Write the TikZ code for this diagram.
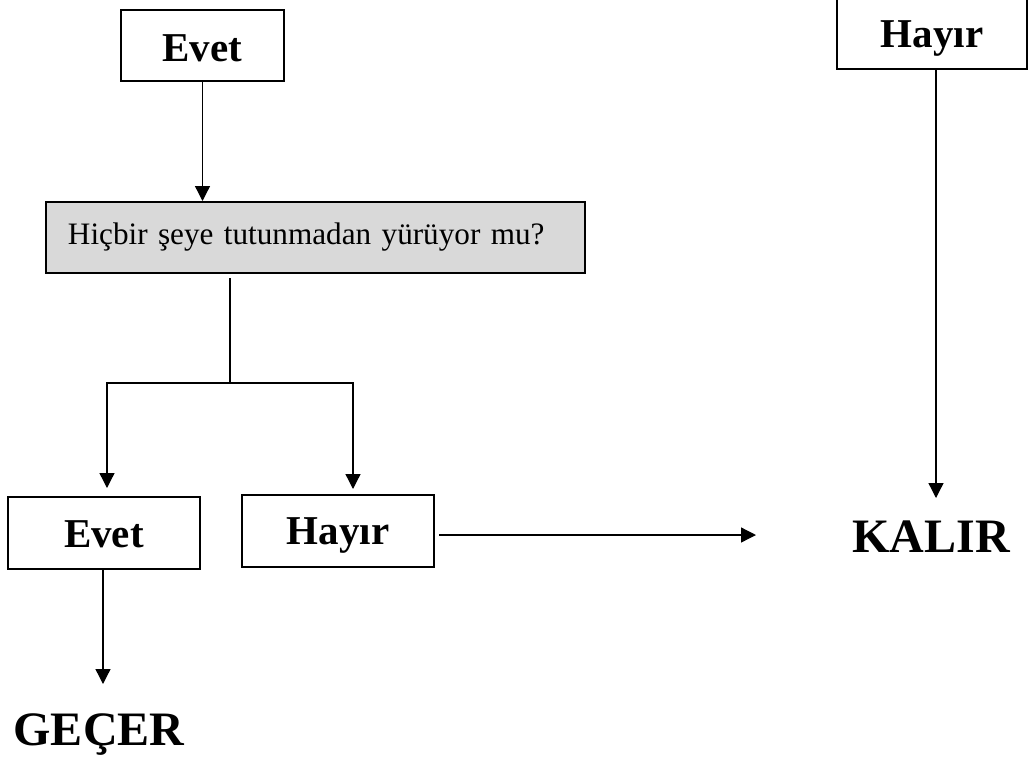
\documentclass[tikz,border=0pt]{standalone}
\usepackage{fontspec}
\setmainfont{Liberation Serif}
\usetikzlibrary{arrows.meta,positioning}
\definecolor{boxgrey}{RGB}{217,217,217}
\tikzset{
answer/.style={draw,line width=1pt,minimum width=96pt,minimum height=36pt,inner sep=0pt,text height=14pt,text depth=0pt,font=\fontsize{20.5}{24}\selectfont\bfseries},
question/.style={draw,line width=1pt,fill=boxgrey,text width=247.5pt,inner xsep=11pt,inner ysep=0pt,minimum height=35.5pt,font=\fontsize{15.6}{19}\selectfont},
result/.style={anchor=base,font=\fontsize{24}{28}\selectfont\bfseries},
link/.style={line width=0.65pt,-{Triangle[length=7.5pt,width=7.5pt]}},
wire/.style={line width=0.65pt}
}

\begin{document}
\begin{tikzpicture}[x=0.5pt,y=-0.5pt]
      \useasboundingbox (0,0) rectangle (1029,761);

      \node[answer,minimum width=81.5pt,minimum height=35.5pt,text height=15.5pt] (evet1) at (202.5,45.5) {Evet};
      \node[answer,minimum width=95pt] (hayir1) at (932,33) {Hayır};
      \node[question] (q) at (315.5,237.5) {Hiçbir şeye tutunmadan yürüyor mu?};
      \node[answer] (evet2) at (104,533) {Evet};
      \node[answer,text height=13pt] (hayir2) at (338,531) {Hayır};
      \node[result] (kalir) at (931,552) {KALIR};
      \node[result] (gecer) at (99,745) {GEÇER};

      \coordinate (split) at (230,383);
      \coordinate (tipe) at (107,488);
      \coordinate (tiph) at (353,489);
      \coordinate (tipg) at (103,684);
      \coordinate (tipr) at (756,535);
      \coordinate (tipk) at (936,498);

      \draw[link] (evet1.south) -- (evet1.south |- q.north);
      \draw[wire] ([yshift=-2pt]q.south -| split) -- (split);
      \draw[link] (split) -| (tipe);
      \draw[link] (split) -| (tiph);
      \draw[link] (evet2.south -| tipg) -- (tipg);
      \draw[link] ([xshift=2pt]hayir2.east |- tipr) -- (tipr);
      \draw[link] (hayir1.south -| tipk) -- (tipk);
\end{tikzpicture}
\end{document}
